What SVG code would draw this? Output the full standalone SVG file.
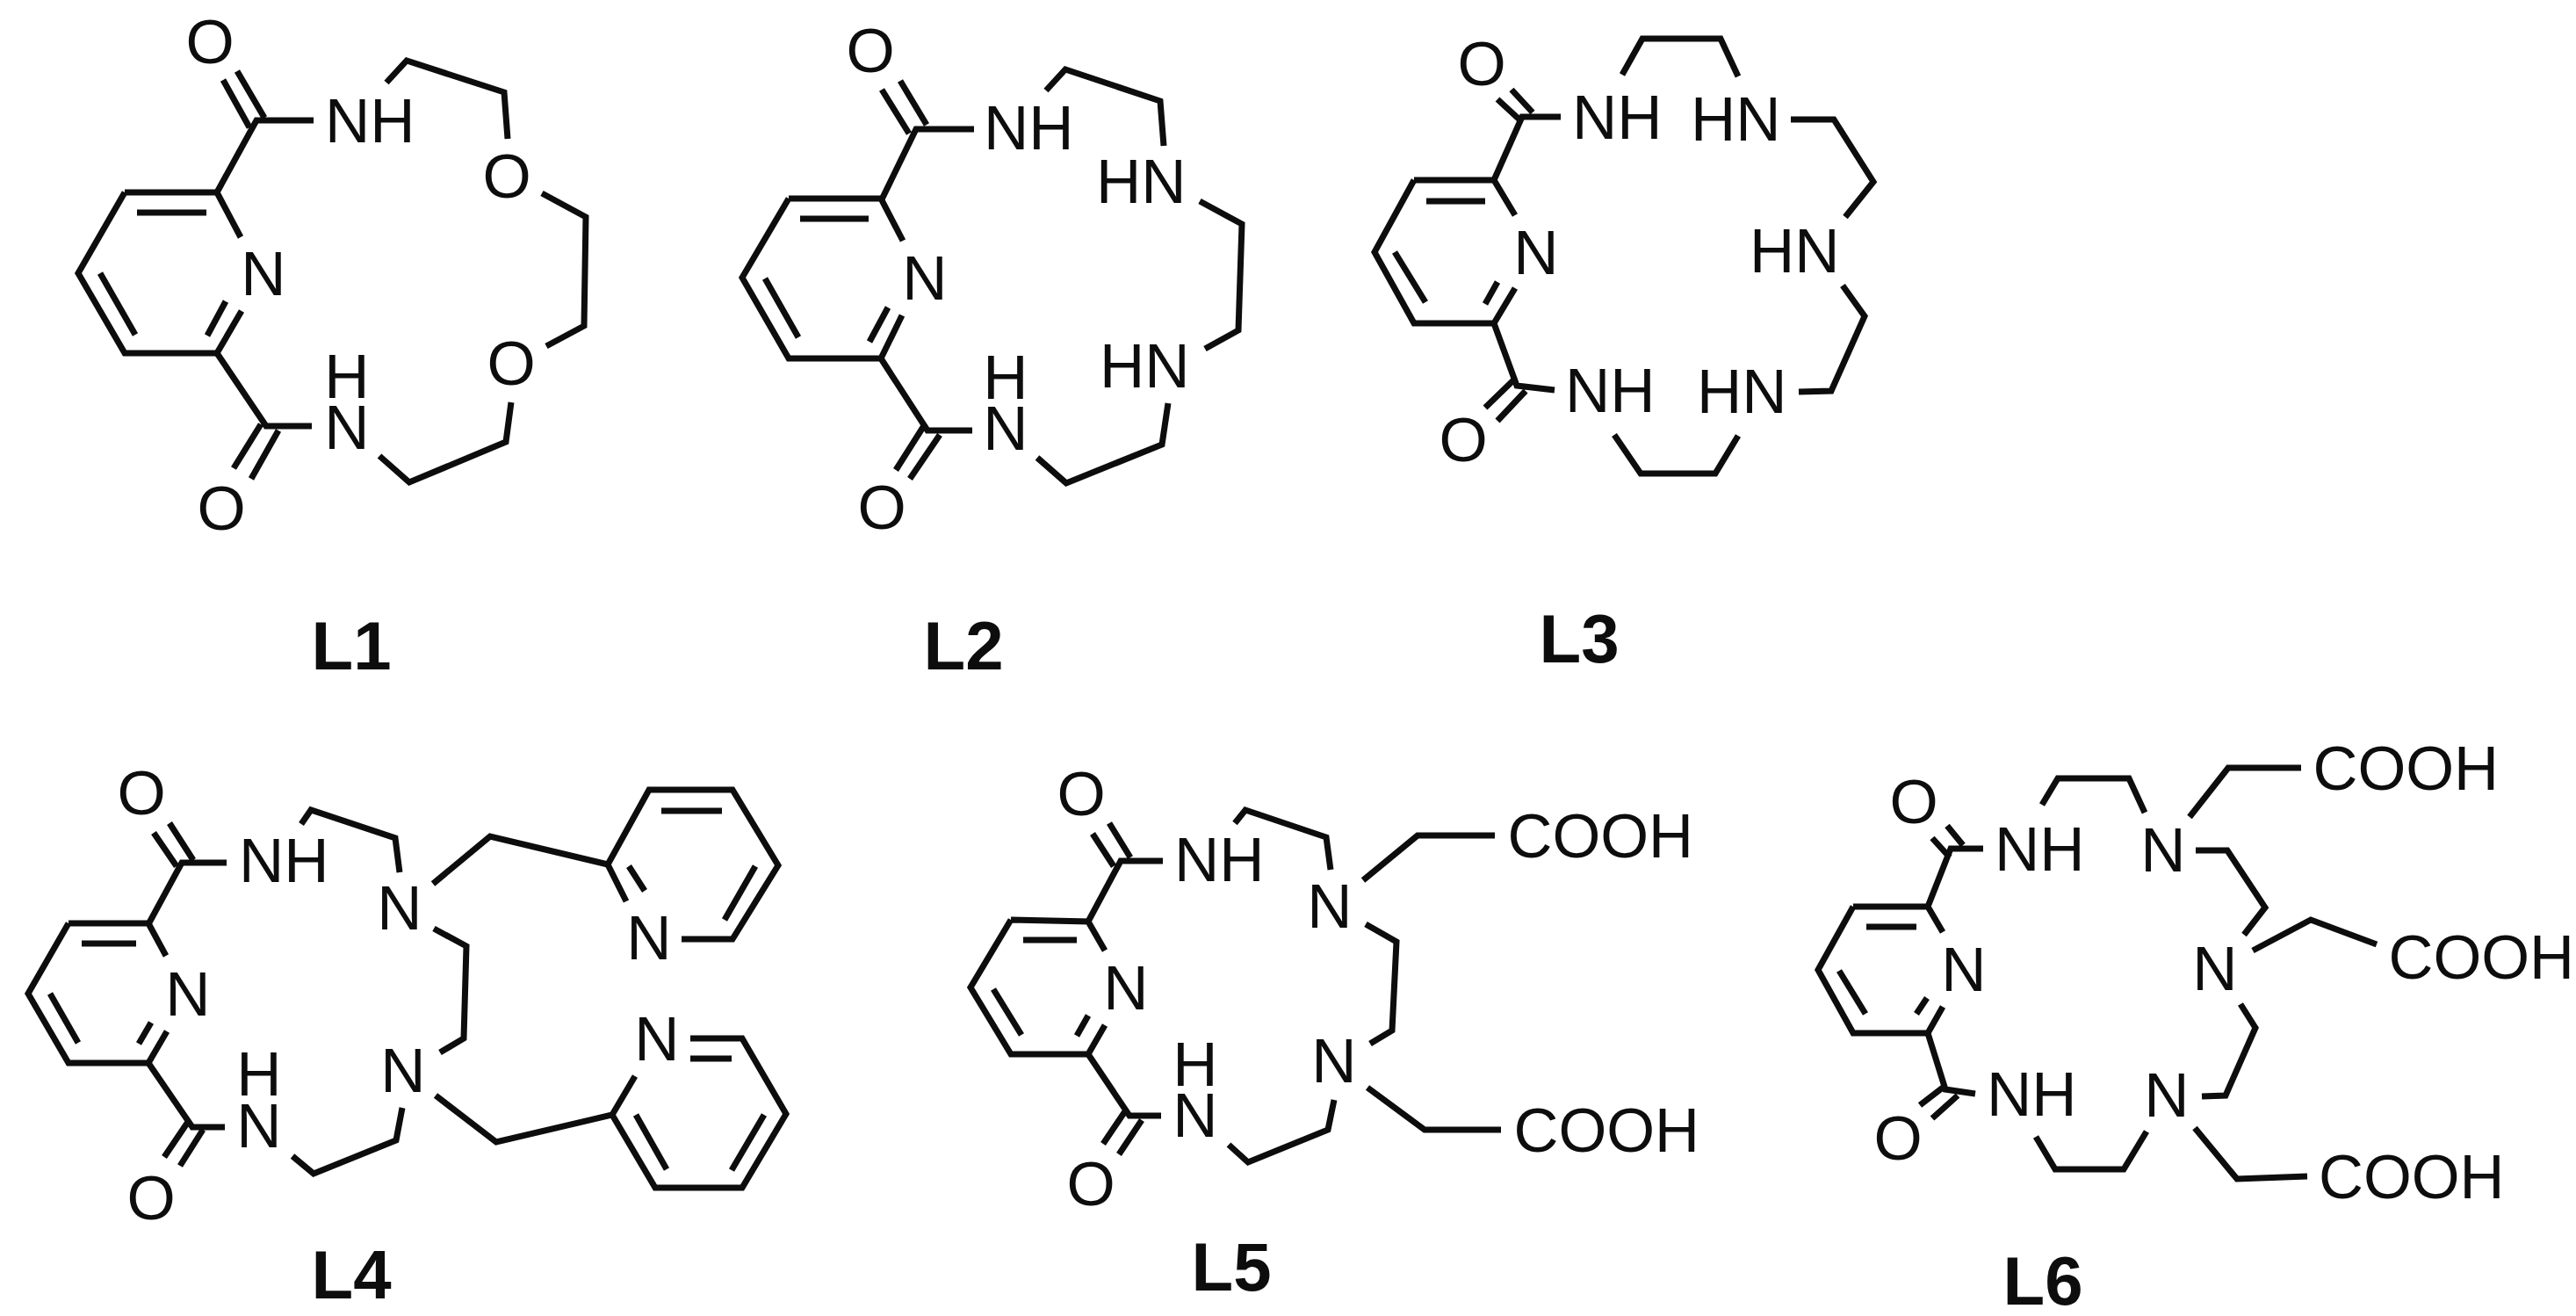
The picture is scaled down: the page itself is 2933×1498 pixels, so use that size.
<svg xmlns="http://www.w3.org/2000/svg" width="2933" height="1498" viewBox="0 0 2933 1498">
<style>
.b{fill:none;stroke:#0d0d0d;stroke-width:7;stroke-linejoin:miter;stroke-linecap:butt}
text{font-family:"Liberation Sans",Arial,sans-serif;font-size:71px;fill:#0d0d0d}
.m{text-anchor:middle}
.t{font-weight:bold;font-size:78px;text-anchor:middle}
.c{font-size:70.5px}
</style>
<rect width="2933" height="1498" fill="#fff"/>
<g id="connectors" class="b">
<g id="bonds-L1">
<path d="M142 219H247L274 270M247 402L275 354M247 402H142L89 311L142 219M156 242H235M114 311L154 381M236 382L257 343"/>
<path d="M247 219L292 137H357M254 91L284 145M270 81L301 134"/>
<path d="M440 94L463 69L574 105L578 158M617 220L667 247L665 371L622 394M582 458L576 503L466 549L432 519"/>
<path d="M247 402L303 485H355M266 533L297 483M286 545L317 490"/>
</g>
<g id="bonds-L2">
<path d="M898 226H1003L1028 274M1003 408L1027 359M1003 408H898L845 316L898 226M911 249H989M871 317L909 384M990 389L1011 350"/>
<path d="M1003 229L1043 147H1109M1004 102L1035 152M1025 92L1055 142"/>
<path d="M1191 103L1213 79L1321 115L1325 166M1366 229L1414 255L1410 376L1372 397M1330 459L1323 506L1214 550L1181 521"/>
<path d="M1003 408L1056 490H1107M1020 535L1053 483M1036 545L1070 495"/>
</g>
<g id="bonds-L3">
<path d="M1610 205H1701L1725 245M1701 368L1725 328M1701 368H1610L1565 287L1610 205M1624 229H1691M1588 287L1623 344M1691 346L1705 321"/>
<path d="M1701 205L1733 133H1777M1705 113L1731 137M1721 102L1745 128"/>
<path d="M1847 85L1870 44H1959L1979 87M2039 136H2088L2133 207L2101 247M2098 325L2123 360L2085 445L2048 446M1979 496L1953 539H1868L1838 495"/>
<path d="M1701 368L1727 439L1770 444M1691 464L1723 433M1705 479L1737 445"/>
</g>
<g id="bonds-L4">
<path d="M78 1051H169L189 1088M169 1210L190 1174M169 1210H78L32 1131L78 1051M93 1074H155M57 1131L89 1187M158 1188L172 1164"/>
<path d="M169 1052L207 982H258M175 948L201 986M193 937L220 979"/>
<path d="M343 938L354 922L450 954L455 993M493 1006L558 952L692 984M494 1057L531 1077L528 1182L501 1198M458 1261L451 1298L357 1336L333 1316"/>
<path d="M169 1210L219 1283H256M187 1317L214 1277M205 1327L231 1286"/>
<path d="M713 1026L692 984L739 899H834L886 985L834 1069H776M716 986L734 1014M753 923H822M860 986L825 1047"/>
<path d="M496 1247L565 1300L697 1269L723 1225M786 1182H845L895 1268L845 1352H746L697 1269M786 1205H833M724 1269L759 1331M833 1332L870 1269"/>
</g>
<g id="bonds-L5">
<path d="M1151 1047L1239 1049L1258 1082M1239 1200L1258 1167M1239 1200H1151L1105 1124L1151 1047M1165 1070H1226M1131 1126L1163 1178M1226 1179L1239 1156"/>
<path d="M1239 1049L1276 980H1324M1244 949L1268 986M1263 937L1287 976"/>
<path d="M1406 937L1418 922L1510 953L1515 990M1552 1002L1614 951H1702M1555 1052L1590 1072L1585 1173L1560 1188M1519 1252L1512 1286L1421 1323L1399 1303"/>
<path d="M1239 1200L1286 1270H1322M1256 1302L1281 1265M1274 1314L1300 1275M1557 1238L1622 1286H1709"/>
</g>
<g id="bonds-L6">
<path d="M2110 1032H2195L2212 1061M2195 1176L2212 1146M2195 1176H2110L2070 1104L2110 1032M2125 1055H2182M2094 1105L2124 1154M2182 1154L2194 1136"/>
<path d="M2195 1032L2221 966H2258M2200 954L2220 976M2217 940L2235 962"/>
<path d="M2325 916L2343 886H2424L2442 925M2493 930L2537 874H2620M2500 968H2536L2579 1033L2555 1064M2565 1082L2631 1047L2706 1075M2551 1143L2568 1170L2534 1247L2507 1248M2499 1284L2547 1342L2627 1339M2444 1288L2418 1331H2340L2318 1294"/>
<path d="M2195 1176L2215 1240L2249 1245M2186 1258L2212 1238M2200 1273L2229 1247"/>
</g>
</g>
<g id="L1">
<text class="m" x="239" y="72">O</text><text x="370" y="162">NH</text><text class="m" x="300" y="336">N</text>
<text class="m" x="577" y="225">O</text><text class="m" x="582" y="438">O</text>
<text class="m"><tspan x="395" y="453">H</tspan><tspan x="395" y="511">N</tspan></text><text class="m" x="252" y="603">O</text>
<text class="t" x="400" y="762">L1</text>
</g>
<g id="L2">
<text class="m" x="991" y="82">O</text><text x="1120" y="170">NH</text><text class="m" x="1053" y="341">N</text>
<text x="1248" y="231">HN</text><text x="1252" y="441">HN</text>
<text class="m"><tspan x="1145" y="454">H</tspan><tspan x="1145" y="512">N</tspan></text><text class="m" x="1004" y="602">O</text>
<text class="t" x="1097" y="762">L2</text>
</g>
<g id="L3">
<text class="m" x="1687" y="97">O</text><text x="1790" y="158">NH</text><text class="m" x="1749" y="312">N</text>
<text x="1925" y="160">HN</text><text x="1992" y="310">HN</text><text x="1932" y="470">HN</text>
<text x="1782" y="469">NH</text><text class="m" x="1666" y="525">O</text>
<text class="t" x="1798" y="754">L3</text>
</g>
<g id="L4">
<text class="m" x="161" y="927">O</text><text x="272" y="1004">NH</text><text class="m" x="214" y="1156">N</text>
<text class="m" x="455" y="1058">N</text><text class="m" x="459" y="1243">N</text>
<text class="m"><tspan x="295" y="1247">H</tspan><tspan x="295" y="1306">N</tspan></text><text class="m" x="172" y="1388">O</text>
<text class="m" x="739" y="1092">N</text><text class="m" x="748" y="1207">N</text>
<text class="t" x="400" y="1478">L4</text>
</g>
<g id="L5">
<text class="m" x="1231" y="928">O</text><text x="1337" y="1003">NH</text><text class="m" x="1282" y="1149">N</text>
<text class="m" x="1514" y="1056">N</text><text class="m" x="1519" y="1232">N</text>
<text class="m"><tspan x="1361" y="1236">H</tspan><tspan x="1361" y="1294">N</tspan></text><text class="m" x="1242" y="1372">O</text>
<text class="c" x="1716.5" y="976">COOH</text><text class="c" x="1723.5" y="1311">COOH</text>
<text class="t" x="1402" y="1469">L5</text>
</g>
<g id="L6">
<text class="m" x="2179" y="937">O</text><text x="2271" y="991">NH</text><text class="m" x="2236" y="1128">N</text>
<text class="m" x="2463" y="992">N</text><text class="m" x="2522" y="1127">N</text><text class="m" x="2467" y="1271">N</text>
<text x="2262" y="1270">NH</text><text class="m" x="2161" y="1320">O</text>
<text class="c" x="2633.5" y="899">COOH</text><text class="c" x="2719.5" y="1114">COOH</text><text class="c" x="2640" y="1364">COOH</text>
<text class="t" x="2326" y="1485">L6</text>
</g>
</svg>
